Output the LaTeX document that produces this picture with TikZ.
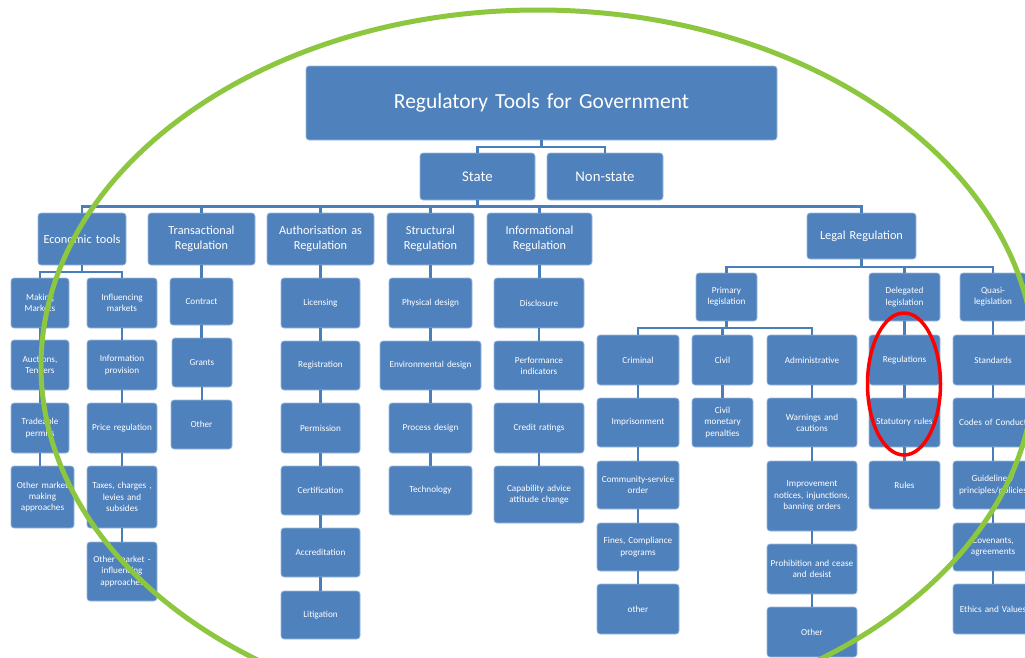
\documentclass[tikz,border=0pt]{standalone}
\usepackage{fontspec}
\setmainfont{Carlito}
\usetikzlibrary{calc}
\definecolor{boxblue}{HTML}{4F81BD}
\definecolor{lineblue}{HTML}{4A7EBB}
\definecolor{ringgreen}{HTML}{8DC63F}
\tikzset{
  box/.style={rectangle, rounded corners=3pt, fill=boxblue, draw=white!45!boxblue, line width=0.7pt,
    text=white, align=center, inner xsep=0pt, inner ysep=1pt, font=\fontsize{9.2}{11.2}\selectfont},
  lvltwo/.style={font=\fontsize{12.3}{15}\selectfont},
  lvlone/.style={font=\fontsize{14.8}{17}\selectfont},
  titlebox/.style={font=\fontsize{21.5}{25}\selectfont},
  conn/.style={draw=lineblue, line width=2.2pt},
  ring/.style={draw=ringgreen, line width=5pt},
  redring/.style={draw=red, line width=3.5pt}
}
\newcommand\bx[7][]{%
  \pgfmathsetmacro\bxcx{(#3+#5)/2}%
  \pgfmathsetmacro\bxcy{(#4+#6)/2}%
  \pgfmathsetmacro\bxww{#5-#3}%
  \pgfmathsetmacro\bxhh{#6-#4}%
  \node[box,#1,minimum width=\bxww pt,minimum height=\bxhh pt,text width=\bxww pt] (#2) at (\bxcx,\bxcy) {#7};}
\begin{document}
\begin{tikzpicture}[x=1pt,y=-1pt]
\useasboundingbox (0,0) rectangle (1025,657);
\fill[white] (0,0) rectangle (1025,657);
\clip (0,0) rectangle (1025,657);

% top levels
\bx[titlebox]{title}{306}{66}{777}{140}{Regulatory Tools for Government}
\bx[lvlone]{st}{420}{153}{535}{200}{State}
\bx[lvlone]{ns}{547}{153}{663}{200}{Non-state}

\bx[lvltwo]{ec}{38}{213}{126}{265}{Economic tools}
\bx[lvltwo]{tr}{148}{213}{255}{265}{Transactional\\Regulation}
\bx[lvltwo]{au}{267}{213}{374}{265}{Authorisation as\\Regulation}
\bx[lvltwo]{su}{387}{213}{474}{265}{Structural\\Regulation}
\bx[lvltwo]{in}{487}{213}{592}{265}{Informational\\Regulation}
\bx[lvltwo]{lr}{807}{213}{916}{259}{Legal Regulation}

% economic
\bx{mm}{11}{278}{69}{328}{Making\\Markets}
\bx{at}{11}{340}{69}{390}{Auctions,\\Tenders}
\bx{tp}{11}{403}{69}{453}{Tradeable\\permits}
\bx{om}{11}{466}{74}{528}{Other market\\making\\approaches}
\bx{im}{87}{278}{157}{328}{Influencing\\markets}
\bx{ip}{87}{340}{157}{390}{Information\\provision}
\bx{pr}{87}{403}{157}{453}{Price regulation}
\bx{tx}{87}{466}{157}{528}{Taxes, charges ,\\levies and\\subsides}
\bx{oi}{87}{542}{157}{601}{Other market -\\influencing\\approaches}

% transactional
\bx{ct}{170}{278}{233}{325}{Contract}
\bx{gr}{172}{338}{232}{387}{Grants}
\bx{ot}{171}{400}{232}{449}{Other}

% authorisation
\bx{li}{281}{278}{360}{328}{Licensing}
\bx{re}{281}{341}{360}{390}{Registration}
\bx{pe}{281}{403}{360}{453}{Permission}
\bx{ce}{281}{466}{360}{515}{Certification}
\bx{ac}{281}{528}{360}{577}{Accreditation}
\bx{lt}{281}{591}{360}{639}{Litigation}

% structural
\bx{pd}{389}{278}{472}{328}{Physical design}
\bx{ed}{380}{341}{481}{390}{Environmental design}
\bx{prd}{389}{403}{472}{453}{Process design}
\bx{te}{389}{466}{472}{515}{Technology}

% informational
\bx{di}{494}{278}{584}{328}{Disclosure}
\bx{pi}{494}{341}{584}{390}{Performance\\indicators}
\bx{cr}{494}{403}{584}{453}{Credit ratings}
\bx{ca}{494}{466}{584}{523}{Capability advice\\attitude change}

% legal
\bx{pl}{696}{273}{757}{321}{Primary\\legislation}
\bx{dl}{869}{273}{940}{321}{Delegated\\legislation}
\bx{ql}{960}{273}{1026}{321}{Quasi-\\legislation}

\bx{cm}{597}{335}{679}{385}{Criminal}
\bx{cv}{692}{335}{753}{385}{Civil}
\bx{ad}{767}{335}{857}{385}{Administrative}
\bx{rg}{869}{335}{940}{385}{Regulations}
\bx{sd}{953}{335}{1033}{385}{Standards}

\bx{ip2}{597}{398}{679}{447}{Imprisonment}
\bx{cmp}{692}{398}{753}{447}{Civil\\monetary\\penalties}
\bx{wc}{767}{398}{857}{447}{Warnings and\\cautions}
\bx{sr}{869}{398}{940}{447}{Statutory rules}
\bx{cc}{953}{398}{1033}{447}{Codes of Conduct}

\bx{cs}{597}{461}{679}{509}{Community-service\\order}
\bx{inj}{767}{461}{857}{531}{Improvement\\notices, injunctions,\\banning orders}
\bx{ru}{869}{461}{940}{509}{Rules}
\bx{gl}{953}{461}{1033}{509}{Guidelines/\\principles/policies}

\bx{fc}{597}{523}{679}{571}{Fines, Compliance\\programs}
\bx{pc}{767}{544}{857}{594}{Prohibition and cease\\and desist}
\bx{cg}{953}{523}{1033}{571}{Covenants,\\agreements}

\bx{oc}{597}{584}{679}{634}{other}
\bx{oa}{767}{607}{857}{657}{Other}
\bx{ev}{953}{584}{1033}{634}{Ethics and Values}

% brackets
\foreach \c in {st,ns} \draw[conn] (title.south) -- (title.south |- 0,147) -| (\c.north);
\foreach \c in {ec,tr,au,su,in,lr} \draw[conn] (st.south) -- (st.south |- 0,206.5) -| (\c.north);
\foreach \c in {mm,im} \draw[conn] (ec.south) -- (ec.south |- 0,272) -| (\c.north);
\foreach \c in {pl,dl,ql} \draw[conn] (lr.south) -- (lr.south |- 0,267) -| (\c.north);
\foreach \c in {cm,cv,ad} \draw[conn] (pl.south) -- (pl.south |- 0,328) -| (\c.north);

% vertical chains
\foreach \a/\b in {mm/at,at/tp,tp/om,im/ip,ip/pr,pr/tx,tx/oi,
  tr/ct,ct/gr,gr/ot,
  au/li,li/re,re/pe,pe/ce,ce/ac,ac/lt,
  su/pd,pd/ed,ed/prd,prd/te,
  in/di,di/pi,pi/cr,cr/ca,
  cm/ip2,ip2/cs,cs/fc,fc/oc,
  cv/cmp,
  ad/wc,wc/inj,inj/pc,pc/oa,
  dl/rg,rg/sr,sr/ru,
  ql/sd,sd/cc,cc/gl,gl/cg,cg/ev}
  \draw[conn] (\a.south) -- (\a.south |- \b.north);

% highlight rings
\draw[ring] (538,366) ellipse [x radius=497, y radius=356];
\draw[redring] (904,384) ellipse [x radius=36.5, y radius=71];
\end{tikzpicture}
\end{document}
